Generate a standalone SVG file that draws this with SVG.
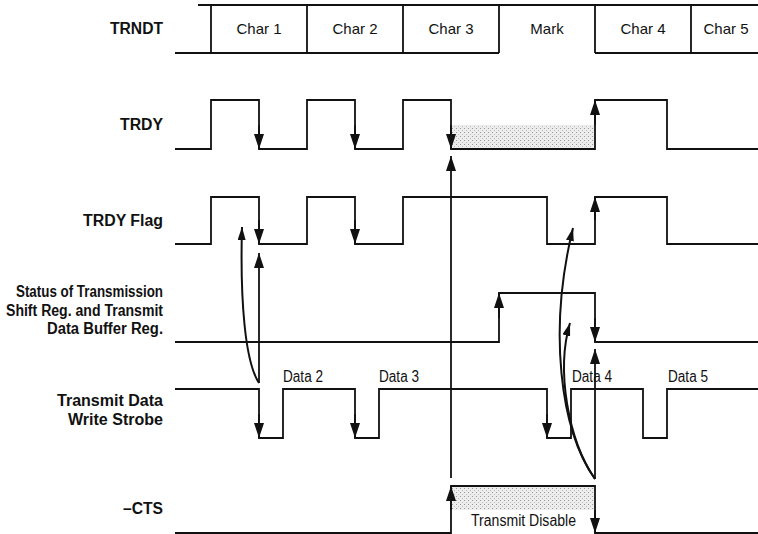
<svg xmlns="http://www.w3.org/2000/svg" width="758" height="534" viewBox="0 0 758 534">
<style>
.w{fill:none;stroke:#111;stroke-width:1.8;stroke-linejoin:miter}
.a{fill:none;stroke:#111;stroke-width:1.8;marker-end:url(#ah)}
.c{fill:none;stroke:#111;stroke-width:2;marker-end:url(#ahs)}
.lb{font-family:"Liberation Sans",Arial,sans-serif;font-weight:bold;font-size:16px;fill:#111;text-anchor:end}
.t{font-family:"Liberation Sans",Arial,sans-serif;font-size:15px;fill:#111}
.d{font-family:"Liberation Sans",Arial,sans-serif;font-size:16px;fill:#111}
.m{text-anchor:middle}
</style>
<defs>
<marker id="ah" viewBox="0 0 15 10" refX="15" refY="5" markerWidth="15" markerHeight="10" markerUnits="userSpaceOnUse" orient="auto"><path d="M0,0 L15,5 L0,10 z" fill="#111"/></marker>
<marker id="ahs" viewBox="0 0 13 8" refX="13" refY="4" markerWidth="13" markerHeight="8" markerUnits="userSpaceOnUse" orient="auto"><path d="M0,0 L13,4 L0,8 z" fill="#111"/></marker>
<pattern id="dots" width="4" height="4" patternUnits="userSpaceOnUse"><rect width="4" height="4" fill="#ececec"/><rect x="0" y="0" width="1" height="1" fill="#9a9a9a"/><rect x="2" y="2" width="1" height="1" fill="#bdbdbd"/></pattern>
</defs>

<g id="labels">
<text class="lb" x="163" y="34" textLength="53" lengthAdjust="spacingAndGlyphs">TRNDT</text>
<text class="lb" x="163" y="130" textLength="43" lengthAdjust="spacingAndGlyphs">TRDY</text>
<text class="lb" x="163" y="226" textLength="80" lengthAdjust="spacingAndGlyphs">TRDY Flag</text>
<text class="lb" x="163" y="297" textLength="147" lengthAdjust="spacingAndGlyphs">Status of Transmission</text>
<text class="lb" x="163" y="316" textLength="157" lengthAdjust="spacingAndGlyphs">Shift Reg. and Transmit</text>
<text class="lb" x="163" y="334" textLength="116" lengthAdjust="spacingAndGlyphs">Data Buffer Reg.</text>
<text class="lb" x="163" y="406" textLength="106" lengthAdjust="spacingAndGlyphs">Transmit Data</text>
<text class="lb" x="163" y="425" textLength="95" lengthAdjust="spacingAndGlyphs">Write Strobe</text>
<text class="lb" x="163" y="514" textLength="40" lengthAdjust="spacingAndGlyphs">–CTS</text>
</g>

<g id="trndt">
<path class="w" d="M198,5 H758 M175,53 H499 M595,53 H758 M211,5 V53 M307,5 V53 M403,5 V53 M499,5 V53 M595,5 V53 M691,5 V53"/>
<text class="t m" x="259" y="34">Char 1</text>
<text class="t m" x="355" y="34">Char 2</text>
<text class="t m" x="451" y="34">Char 3</text>
<text class="t m" x="547" y="34">Mark</text>
<text class="t m" x="643" y="34">Char 4</text>
<text class="t m" x="726" y="34">Char 5</text>
</g>

<g id="trdy">
<rect x="452" y="125" width="143" height="23" fill="url(#dots)"/>
<path class="w" d="M175,149 H211 V100 H259 V149 H307 V100 H355 V149 H403 V100 H451 V149 H595 V100 H667 V149 H758"/>
<path class="a" d="M259,125 V149"/>
<path class="a" d="M355,125 V149"/>
<path class="a" d="M451,125 V149"/>
<path class="a" d="M595,125 V100"/>
</g>

<g id="trdy-flag">
<path class="w" d="M175,244 H211 V197 H259 V244 H307 V197 H355 V244 H403 V197 H547 V244 H595 V197 H667 V244 H758"/>
<path class="a" d="M259,220 V244"/>
<path class="a" d="M355,220 V244"/>
<path class="a" d="M595,220 V197"/>
</g>

<g id="status">
<path class="w" d="M175,342 H499 V293 H595 V342 H758"/>
<path class="a" d="M499,318 V293"/>
<path class="a" d="M595,318 V342"/>
</g>

<g id="write-strobe">
<path class="w" d="M175,389 H259 V438 H283 V389 H355 V438 H379 V389 H547 V438 H571 V389 H643 V438 H667 V389 H758"/>
<path class="a" d="M259,414 V438"/>
<path class="a" d="M355,414 V438"/>
<path class="a" d="M547,414 V438"/>
<text class="d" x="283" y="382" textLength="40" lengthAdjust="spacingAndGlyphs">Data 2</text>
<text class="d" x="379" y="382" textLength="40" lengthAdjust="spacingAndGlyphs">Data 3</text>
<text class="d" x="572" y="382" textLength="40" lengthAdjust="spacingAndGlyphs">Data 4</text>
<text class="d" x="668" y="382" textLength="40" lengthAdjust="spacingAndGlyphs">Data 5</text>
</g>

<g id="cts">
<rect x="452" y="487" width="143" height="23" fill="url(#dots)"/>
<path class="w" d="M175,533 H451 V486 H595 V533 H758"/>
<path class="a" d="M451,510 V486"/>
<path class="a" d="M595,510 V533"/>
<text class="d" x="471" y="526" textLength="105" lengthAdjust="spacingAndGlyphs">Transmit Disable</text>
</g>

<g id="connectors">
<path class="a" d="M451,478 V156"/>
<path class="a" d="M259,383 V253"/>
<path class="a" d="M595,479 V349"/>
<path class="c" d="M259,383 C245,362 240,300 242,227"/>
<path class="c" d="M595,479 C560,430 548,330 573,228"/>
<path class="c" d="M595,479 C568,440 556,370 570,323"/>
</g>
</svg>
